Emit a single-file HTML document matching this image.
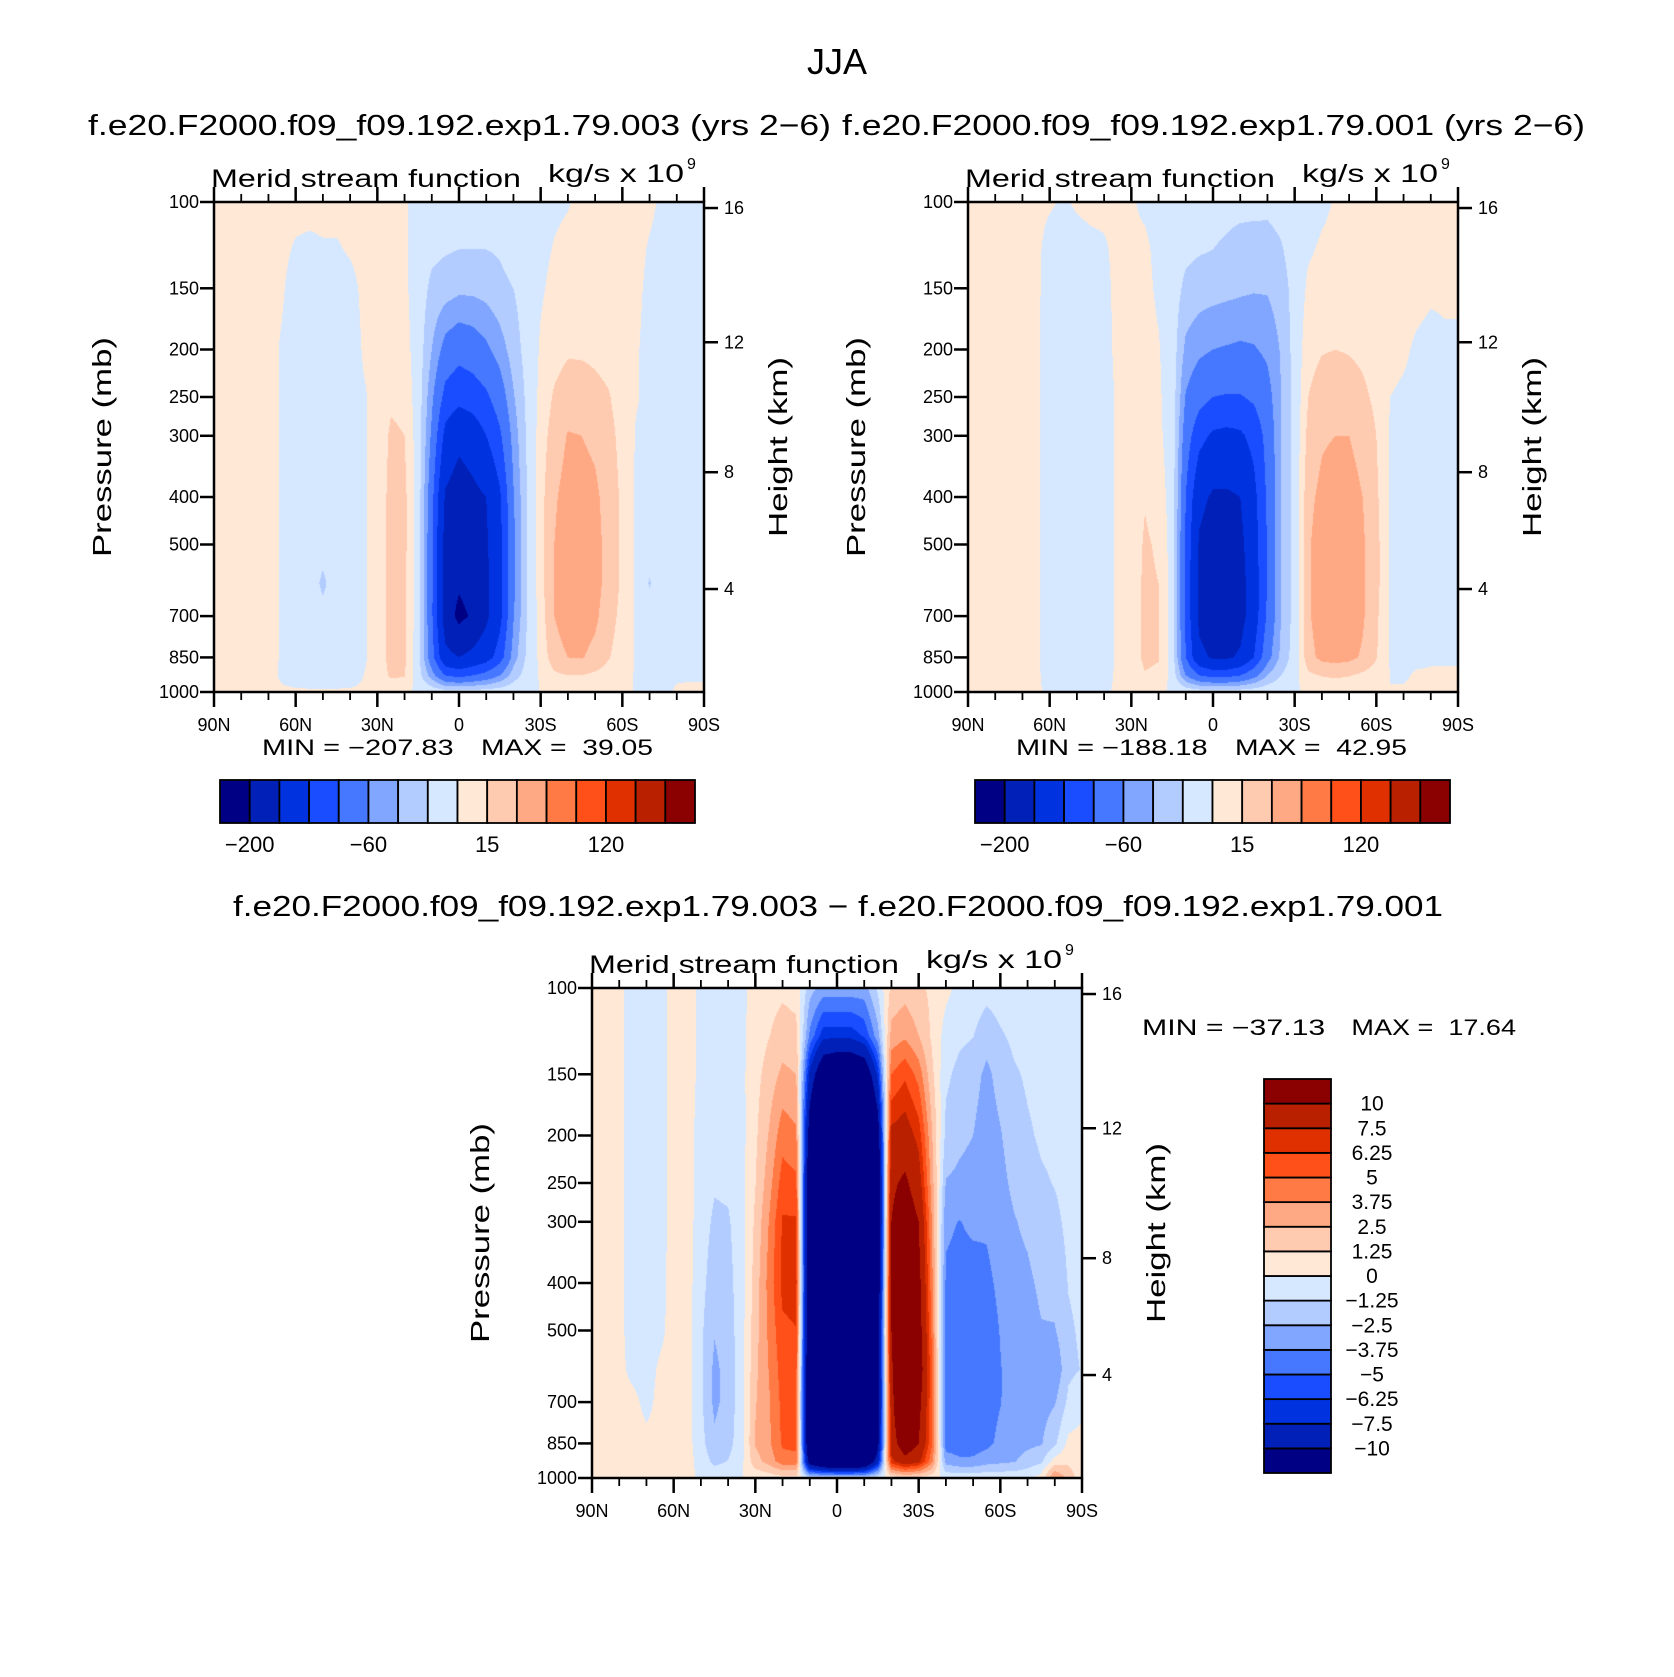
<!DOCTYPE html>
<html><head><meta charset="utf-8">
<style>
html,body{margin:0;padding:0;background:#fff;}
#wrap{position:relative;width:1674px;height:1677px;overflow:hidden;background:#fff;}
canvas{position:absolute;}
svg{position:absolute;left:0;top:0;}
text{font-family:"Liberation Sans",sans-serif;fill:#000;}
</style></head>
<body>
<div id="wrap">
<canvas id="c1" width="490" height="490" style="left:214px;top:202px"></canvas>
<canvas id="c2" width="490" height="490" style="left:968px;top:202px"></canvas>
<canvas id="c3" width="490" height="490" style="left:592px;top:988px"></canvas>
<svg id="svg" width="1674" height="1677" xmlns="http://www.w3.org/2000/svg">
<text x="837" y="74" font-size="36" text-anchor="middle">JJA</text>
<text x="88" y="135" font-size="29" textLength="743" lengthAdjust="spacingAndGlyphs">f.e20.F2000.f09_f09.192.exp1.79.003 (yrs 2−6)</text>
<text x="842" y="135" font-size="29" textLength="743" lengthAdjust="spacingAndGlyphs">f.e20.F2000.f09_f09.192.exp1.79.001 (yrs 2−6)</text>
<text x="233" y="916" font-size="29" textLength="1210" lengthAdjust="spacingAndGlyphs">f.e20.F2000.f09_f09.192.exp1.79.003 − f.e20.F2000.f09_f09.192.exp1.79.001</text>
</svg>
</div>
<script>
const pLevels=[100,125,150,200,250,300,400,500,600,700,850,925,1000];
const lats=[90,85,80,75,70,65,60,55,50,45,40,35,30,25,20,15,10,5,0,-5,-10,-15,-20,-25,-30,-35,-40,-45,-50,-55,-60,-65,-70,-75,-80,-85,-90];
const latTickLabels=["90N","60N","30N","0","30S","60S","90S"];
const latTickValues=[90,60,30,0,-30,-60,-90];
const pTickValues=[100,150,200,250,300,400,500,700,850,1000];
const hTickValues=[16,12,8,4];
const levels12=[-200,-160,-120,-90,-60,-40,-20,0,15,30,50,80,120,160,200];
const levels12Labels=["−200","−60","15","120"];
const levels3=[-10,-7.5,-6.25,-5,-3.75,-2.5,-1.25,0,1.25,2.5,3.75,5,6.25,7.5,10];
const levels3Labels=["−10","−7.5","−6.25","−5","−3.75","−2.5","−1.25","0","1.25","2.5","3.75","5","6.25","7.5","10"];
const palette=["#000085","#0020b8","#0032e0","#1a4dff","#4678ff","#80a6ff","#b2ccff","#d6e8ff","#ffe9d6","#ffcbb0","#ffa984","#ff7a45","#ff501a","#e03000","#b82000","#8b0000"];

// values per latitude column, top (100mb) to bottom (1000mb)
const psi003=[
[3,3,3,3,3,3,3,3,3,3,3,2,1],
[3,3,3,3,3,3,3,3,3,3,3,2,1],
[3,3,3,3,3,3,3,3,3,3,3,2,1],
[3,3,3,3,3,3,3,3,3,3,3,2,1],
[3,3,3,3,3,3,3,3,3,3,3,2,1],
[3,2,1,-1,-1,-1,-1,-1,-1,-1,-1,-1,1],
[3,-1,-4,-5,-5,-5,-5,-5,-5,-5,-5,-3,1],
[3,-2,-5,-6,-6,-6,-6,-6,-6,-6,-6,-4,1],
[3,-1,-5,-6,-6,-6,-7,-10,-25,-12,-6,-4,1],
[3,-1,-4,-6,-6,-6,-6,-6,-6,-6,-6,-4,1],
[3,1,-3,-5,-5,-5,-5,-5,-5,-5,-5,-3,1],
[3,3,2,1,-1,-1,-1,-1,-1,-1,-1,0,1],
[3,3,3,3,3,3,3,3,3,3,3,3,1],
[3,4,5,7,12,18,21,21,21,21,22,18,2],
[2,2,3,6,10,15,19,19,18,18,18,16,2],
[-6,-7,-8,-8,-8,-8,-8,-8,-8,-8,-12,-10,-2],
[-12,-15,-25,-40,-55,-65,-80,-85,-85,-85,-78,-50,-5],
[-15,-18,-30,-70,-100,-130,-165,-175,-178,-180,-150,-90,-10],
[-15,-20,-35,-80,-110,-150,-180,-185,-195,-210,-160,-100,-10],
[-15,-20,-35,-75,-105,-140,-170,-178,-185,-195,-150,-90,-10],
[-15,-20,-32,-65,-95,-120,-160,-165,-168,-168,-135,-80,-8],
[-12,-18,-25,-50,-75,-95,-125,-130,-130,-130,-105,-60,-6],
[-10,-12,-20,-30,-42,-52,-62,-65,-65,-62,-50,-30,-4],
[-8,-8,-10,-12,-15,-17,-20,-21,-21,-20,-16,-10,-2],
[-5,-4,-2,2,5,8,10,10,10,8,5,2,0],
[-3,1,4,9,17,22,28,30,30,30,24,12,1],
[-1,4,8,13,23,31,36,38,38,38,30,15,1],
[3,6,9,13,22,30,36,38,38,37,31,15,1],
[5,7,9,12,19,27,33,35,35,33,26,12,1],
[5,6,7,10,16,20,24,25,25,22,16,8,1],
[4,4,5,6,8,10,12,12,12,10,7,4,0],
[4,3,2,1,1,-1,-2,-2,-2,-2,-1,-1,0],
[2,-1,-2,-3,-3,-3,-3,-8,-22,-8,-3,-2,-1],
[-2,-3,-3,-3,-3,-3,-3,-3,-3,-3,-2,-1,-1],
[-2,-3,-3,-3,-3,-3,-3,-3,-3,-2,-1,-0.5,0.5],
[-1,-2,-2,-2,-2,-2,-2,-2,-2,-1,-0.5,-0.3,0.5],
[-1,-2,-2,-2,-2,-2,-2,-2,-2,-1,-0.5,-0.3,0.5]
];
const psi001=[
[2,2,2,2,2,2,2,2,2,2,2,2,1],
[2,2,2,2,2,2,2,2,2,2,2,2,1],
[2,2,2,2,2,2,2,2,2,2,2,2,1],
[2,2,2,2,2,2,2,2,2,2,2,2,1],
[2,2,2,2,2,2,2,2,2,2,2,2,1],
[2,2,2,2,2,2,2,2,2,2,2,2,1],
[1,-3,-4,-5,-5,-5,-5,-5,-5,-5,-5,-4,-1],
[-1,-4,-5,-6,-6,-6,-6,-6,-6,-6,-6,-4,-1],
[1,-3,-5,-6,-6,-6,-6,-6,-6,-6,-6,-4,-1],
[2,-2,-4,-5,-5,-5,-5,-5,-5,-5,-5,-4,-1],
[2,-1,-2,-3,-3,-3,-3,-3,-3,-3,-3,-2,-1],
[2,2,2,2,1,1,1,1,1,1,1,1,1],
[1,2,3,3,3,4,5,6,7,8,8,6,1],
[-2,2,3,4,5,8,14,17,18,18,18,14,1],
[-4,-3,-2,1,2,3,8,13,15,16,16,12,1],
[-8,-9,-9,-8,-7,-7,-7,-7,-7,-7,-8,-6,-1],
[-12,-15,-25,-45,-62,-75,-90,-95,-95,-95,-90,-60,-5],
[-14,-18,-30,-55,-80,-110,-150,-165,-170,-170,-150,-90,-8],
[-15,-20,-32,-60,-90,-125,-165,-180,-185,-185,-165,-100,-8],
[-16,-22,-34,-62,-92,-128,-165,-178,-185,-187,-165,-100,-8],
[-16,-25,-36,-64,-92,-125,-160,-170,-175,-175,-155,-90,-8],
[-16,-26,-38,-62,-85,-110,-130,-135,-138,-138,-120,-70,-6],
[-15,-28,-38,-55,-70,-80,-85,-88,-88,-85,-70,-40,-4],
[-12,-22,-30,-38,-40,-40,-40,-40,-40,-40,-35,-20,-2],
[-8,-10,-12,-12,-12,-12,-12,-12,-12,-12,-10,-6,-1],
[-6,-2,3,10,15,20,26,28,28,28,25,12,1],
[-3,2,6,14,22,28,34,38,38,38,34,16,1],
[1,4,8,15,24,30,38,42,42,42,36,18,1],
[3,5,8,14,22,30,37,40,40,40,34,16,1],
[4,5,7,12,18,24,30,32,32,32,28,12,1],
[4,5,6,8,12,15,18,20,20,18,16,8,1],
[3,3,3,2,0,-1,-1,-1,-1,-1,-1,0,0],
[3,3,2,1,-1,-2,-3,-3,-3,-3,-2,-1,1],
[3,3,2,-1,-2,-3,-3,-3,-3,-3,-2,1,1],
[3,3,1,-2,-3,-3,-3,-3,-3,-3,-1,1,1],
[2,2,1,-1,-2,-2,-2,-2,-2,-2,-1,1,1],
[2,2,1,-1,-2,-2,-2,-2,-2,-2,-1,1,1]
];
const psiDiff=[
[0.5,0.5,0.5,0.5,0.5,0.5,0.5,0.5,0.5,0.5,0.5,0.5,0.3],
[0.5,0.5,0.5,0.5,0.5,0.5,0.5,0.5,0.5,0.5,0.5,0.5,0.3],
[0.3,0.3,0.3,0.3,0.3,0.3,0.3,0.3,0.3,0.3,0.3,0.3,0.3],
[-0.5,-0.5,-0.5,-0.5,-0.5,-0.5,-0.5,-0.5,-0.3,0.3,0.5,0.5,0.3],
[-0.7,-0.7,-0.7,-0.7,-0.7,-0.7,-0.7,-0.6,-0.5,-0.3,0.3,0.3,0.3],
[-0.5,-0.5,-0.5,-0.5,-0.5,-0.5,-0.4,-0.3,0.2,0.3,0.3,0.3,0.3],
[0.5,0.5,0.5,0.5,0.5,0.5,0.5,0.5,0.5,0.5,0.5,0.5,0.3],
[0.5,0.5,0.5,0.5,0.5,0.5,0.5,0.5,0.5,0.5,0.5,0.5,0.3],
[-0.3,-0.3,-0.3,-0.5,-0.5,-0.6,-0.8,-1,-1,-1,-0.8,-0.5,-0.2],
[-0.5,-0.6,-0.8,-0.9,-1.1,-1.5,-2,-2.4,-2.8,-2.8,-2.2,-1.6,-0.3],
[-0.5,-0.6,-0.7,-0.8,-1,-1.4,-1.7,-1.9,-2,-2,-1.7,-1.2,-0.3],
[-0.3,-0.3,-0.3,-0.4,-0.4,-0.5,-0.5,-0.5,-0.5,-0.5,-0.5,-0.3,0],
[0.5,0.6,0.8,1.0,1.2,1.5,1.8,2,2.2,2.4,2.6,2,0.3],
[0.8,1.2,1.8,2.6,3.2,3.8,4.2,4,3.8,3.6,3.5,3,0.5],
[1,1.8,2.8,4.5,5.6,6.4,6.6,6,5.6,5.4,5.2,4.5,0.8],
[0.8,1.6,2.5,4,5.3,6.4,6.8,6.2,5.5,5,5.4,4.5,0.8],
[-2,-4,-8,-12,-14,-15,-15,-15,-15,-15,-15,-12,-1],
[-3,-7,-13,-20,-25,-28,-30,-30,-30,-30,-28,-15,-1],
[-3,-7,-14,-22,-27,-30,-32,-32,-32,-32,-30,-16,-1],
[-3,-7,-14,-22,-27,-30,-33,-34,-34,-33,-30,-16,-1],
[-3,-6,-13,-20,-25,-28,-30,-30,-30,-30,-28,-15,-1],
[-1,-3,-7,-12,-14,-14,-13,-12,-12,-12,-11,-8,-0.5],
[1.5,3,5,8,9.5,10,10,10,9.5,9,8.5,7,0.5],
[2,3.5,6,8.5,10.5,12,13,14,15,15,12,9,1],
[1.5,2.5,4.5,7,8.5,10,11,11.5,12,11,10,8,0.8],
[1,1,1.5,2.5,3,3.5,4,4.5,5,5,5,4,0.4],
[0.3,-0.5,-1,-1.6,-2.6,-3.5,-4,-4.2,-4.5,-4.6,-4.4,-3,-0.3],
[-0.3,-1,-1.6,-2.2,-2.8,-3.8,-4.2,-4.3,-4.5,-4.6,-4.5,-3.5,-0.3],
[-0.5,-1.2,-2,-2.5,-3,-3.5,-4.3,-4.4,-4.5,-4.5,-4.4,-3.5,-0.3],
[-0.8,-2,-2.8,-3.2,-3.4,-3.6,-4,-4.3,-4.5,-4.4,-4.1,-3,-0.3],
[-0.6,-1.4,-2,-2.6,-2.9,-3.2,-3.5,-3.7,-3.8,-3.8,-3.4,-2.8,-0.3],
[-0.5,-1,-1.4,-1.8,-2.2,-2.6,-3,-3.2,-3.3,-3.2,-3,-2.6,-0.3],
[-0.5,-0.8,-1.1,-1.4,-1.7,-2.2,-2.8,-3.2,-3.6,-3.6,-2.8,-2,-0.2],
[-0.5,-0.7,-0.9,-1.1,-1.4,-1.6,-2.2,-2.6,-3,-3,-2.6,-1.5,0.5],
[-0.5,-0.6,-0.8,-1,-1.2,-1.5,-2,-2.6,-3.6,-2.6,-1.5,0.5,4],
[-0.4,-0.5,-0.7,-0.8,-0.9,-1,-1.2,-1.4,-1.5,-1,0.3,1,2],
[-0.3,-0.4,-0.5,-0.6,-0.7,-0.8,-1,-1.1,-1.2,-0.5,0.5,0.5,0.5]
];
const minMax003=["−207.83","39.05"];
const minMax001=["−188.18","42.95"];
const minMaxDiff=["−37.13","17.64"];

const NS="http://www.w3.org/2000/svg";
const svg=document.getElementById('svg');
function mk(tag,attrs,parent){const e=document.createElementNS(NS,tag);for(const k in attrs)e.setAttribute(k,attrs[k]);(parent||svg).appendChild(e);return e;}
function hexToRgb(h){return [parseInt(h.substr(1,2),16),parseInt(h.substr(3,2),16),parseInt(h.substr(5,2),16)];}
const rgb=palette.map(hexToRgb);
const logP=pLevels.map(p=>Math.log10(p));

function renderField(canvas,grid,levels){
  const ctx=canvas.getContext('2d');const w=canvas.width,h=canvas.height;
  const img=ctx.createImageData(w,h);const d=img.data;
  const nl=lats.length;
  for(let py=0;py<h;py++){
    const lp=2+(py+0.5)/h;
    let k=0;while(k<logP.length-2&&lp>logP[k+1])k++;
    let t=(lp-logP[k])/(logP[k+1]-logP[k]);t=Math.max(0,Math.min(1,t));
    for(let px=0;px<w;px++){
      const fi=(px+0.5)/w*(nl-1);
      let i=Math.min(nl-2,Math.floor(fi));const u=fi-i;
      const v=(1-u)*((1-t)*grid[i][k]+t*grid[i][k+1])+u*((1-t)*grid[i+1][k]+t*grid[i+1][k+1]);
      let c=0;while(c<levels.length&&v>=levels[c])c++;
      const o=(py*w+px)*4;const col=rgb[c];
      d[o]=col[0];d[o+1]=col[1];d[o+2]=col[2];d[o+3]=255;
    }
  }
  ctx.putImageData(img,0,0);
}
function heightToP(z){return z<=11?1013.25*Math.pow(1-0.0065*z*1000/288.15,5.25588):226.32*Math.exp(-(z-11)*1000/6341.6);}

function drawAxes(L,T,W,H,id){
  const g=mk('g',{});
  
  
  const xOf=lat=>L+(90-lat)/180*W;
  const yOf=p=>T+Math.log10(p/100)*H;
  const fr=mk('rect',{x:L,y:T,width:W,height:H,fill:'none',stroke:'#000','stroke-width':2.5},g);
  
  
  for(let lat=90;lat>=-90;lat-=10){
    const x=xOf(lat);const major=(lat%30===0);
    mk('line',{x1:x,x2:x,y1:T+H,y2:T+H+(major?15:8),stroke:'#000','stroke-width':major?2.5:1.8},g);
    mk('line',{x1:x,x2:x,y1:T,y2:T-(major?15:8),stroke:'#000','stroke-width':major?2.5:1.8},g);
  }
  latTickValues.forEach((lat,i)=>{
    const t=mk('text',{x:xOf(lat),y:T+H+39,'font-size':18,'text-anchor':'middle'},g);
    t.textContent=latTickLabels[i];
    
    
  });
  pTickValues.forEach(p=>{
    const y=yOf(p);
    mk('line',{x1:L-14,x2:L,y1:y,y2:y,stroke:'#000','stroke-width':2.5},g);
    const t=mk('text',{x:L-15,y:y+6,'font-size':18,'text-anchor':'end'},g);
    t.textContent=String(p);
    
    
  });
  hTickValues.forEach(z=>{
    const y=yOf(heightToP(z));
    mk('line',{x1:L+W,x2:L+W+14,y1:y,y2:y,stroke:'#000','stroke-width':2.5},g);
    const t=mk('text',{x:L+W+20,y:y+6,'font-size':18},g);
    t.textContent=String(z);
    
    
  });
  const pt=mk('text',{x:0,y:0,'font-size':26,'text-anchor':'middle',transform:`translate(${L-103},${T+H/2}) rotate(-90)`,textLength:220,lengthAdjust:'spacingAndGlyphs'},g);
  pt.textContent='Pressure (mb)';
  
  
  const ht=mk('text',{x:0,y:0,'font-size':26,'text-anchor':'middle',transform:`translate(${L+W+83},${T+H/2}) rotate(-90)`,textLength:180,lengthAdjust:'spacingAndGlyphs'},g);
  ht.textContent='Height (km)';
  
  
  const mt=mk('text',{x:L-3,y:T-15,'font-size':25,textLength:310,lengthAdjust:'spacingAndGlyphs'},g);
  mt.textContent='Merid stream function';
  
  
  const ut=mk('text',{x:L+334,y:T-20,'font-size':25,textLength:136,lengthAdjust:'spacingAndGlyphs'},g);
  ut.textContent='kg/s x 10';
  
  
  const sup=mk('text',{x:L+473,y:T-33,'font-size':16},g);
  sup.textContent='9';
  
  
}
function minMaxText(x,y,len,vals,name){
  const g=mk('g',{});
  
  
  const a=mk('text',{x:x,y:y,'font-size':22,textLength:len*0.49,lengthAdjust:'spacingAndGlyphs'},g);
  a.textContent='MIN = '+vals[0];
  
  
  const b=mk('text',{x:x+len*0.56,y:y,'font-size':22,textLength:len*0.44,lengthAdjust:'spacingAndGlyphs','style':'white-space:pre'},g);
  b.textContent='MAX =  '+vals[1];
  
  
}
function hColorbar(x,y,w,h,labels,name){
  const g=mk('g',{});
  
  
  const bw=w/palette.length;
  palette.forEach((c,i)=>{
    const r=mk('rect',{x:x+i*bw,y:y,width:bw,height:h,fill:c,stroke:'#000','stroke-width':1.8},g);
    
    
  });
  labels.forEach((lab,j)=>{
    const t=mk('text',{x:x+(1+4*j)*bw,y:y+h+29,'font-size':22,'text-anchor':'middle'},g);
    t.textContent=lab;
    
    
  });
}
function vColorbar(x,y,w,h,labels,name){
  const g=mk('g',{});
  
  
  const bh=h/palette.length;
  palette.forEach((c,i)=>{
    const r=mk('rect',{x:x,y:y+(palette.length-1-i)*bh,width:w,height:bh,fill:c,stroke:'#000','stroke-width':1.8},g);
    
    
  });
  labels.forEach((lab,j)=>{
    const t=mk('text',{x:x+w+41,y:y+(palette.length-1-j)*bh+7,'font-size':21,'text-anchor':'middle'},g);
    t.textContent=lab;
    
    
  });
}

renderField(document.getElementById('c1'),psi003,levels12);
renderField(document.getElementById('c2'),psi001,levels12);
renderField(document.getElementById('c3'),psiDiff,levels3);
drawAxes(214,202,490,490,'left-panel');
drawAxes(968,202,490,490,'right-panel');
drawAxes(592,988,490,490,'difference-panel');
minMaxText(262,755,391,minMax003,'left-min-max');
minMaxText(1016,755,391,minMax001,'right-min-max');
minMaxText(1142,1035,374,minMaxDiff,'difference-min-max');
hColorbar(220,780,475,43,levels12Labels,'left-colorbar');
hColorbar(975,780,475,43,levels12Labels,'right-colorbar');
vColorbar(1264,1079,67,394,levels3Labels,'difference-colorbar');
</script>
</body></html>
